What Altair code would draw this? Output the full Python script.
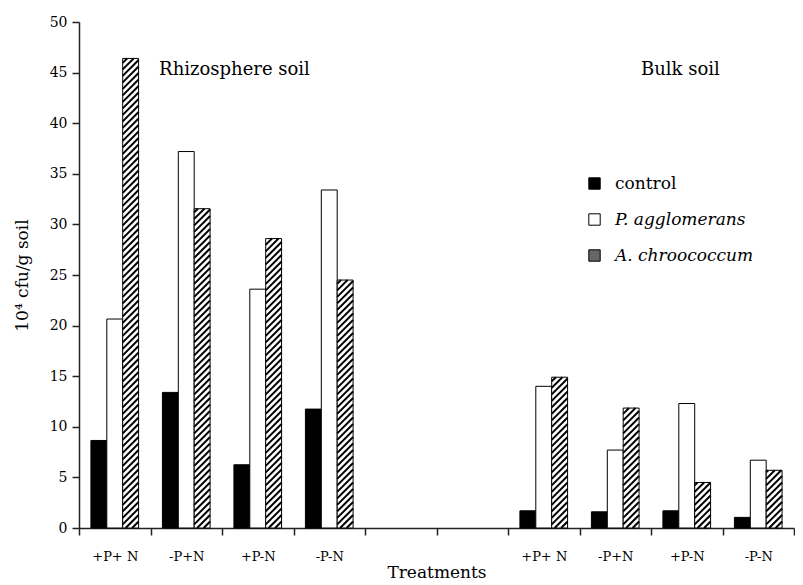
import json
import altair as alt
import pandas as pd

# ---- data ----
slots = list(range(10))
treatments = ["+P+ N", "-P+N", "+P-N", "-P-N", "", "", "+P+ N", "-P+N", "+P-N", "-P-N"]
series = ["control", "P. agglomerans", "A. chroococcum"]
control = [8.65, 13.4, 6.25, 11.75, None, None, 1.7, 1.6, 1.7, 1.05]
p_agglomerans = [20.65, 37.2, 23.6, 33.4, None, None, 14.0, 7.7, 12.3, 6.7]
a_chroococcum = [46.4, 31.55, 28.6, 24.5, None, None, 14.9, 11.85, 4.5, 5.7]
y_ticks = [0, 5, 10, 15, 20, 25, 30, 35, 40, 45, 50]
annotations = ["Rhizosphere soil", "Bulk soil"]
annot_x = [1.12, 7.86]
annot_y = [45.3, 45.3]

W, H = 715, 506
FONT = "DejaVu Serif"

rows = []
for s, vals in zip(series, [control, p_agglomerans, a_chroococcum]):
    for sl, v in zip(slots, vals):
        if v is not None:
            rows.append({"slot": sl, "series": s, "value": v})
df = pd.DataFrame(rows)

# ---- hatch lines for A. chroococcum bars (derived from the values) ----
group_frac = 2 / 3
bar_u = group_frac / 3                      # bar width in category units
bar_px = bar_u * W / 10
px_per_y = H / 50
rise = bar_px / px_per_y                    # 45 degree rise across one bar
period = 6.5 / px_per_y                     # vertical stripe period
hrows = []
for sl, v in zip(slots, a_chroococcum):
    if v is None:
        continue
    xl = sl + (1 - group_frac) / 2 + 2 * bar_u
    k = 0
    while True:
        ya = -rise + k * period
        if ya >= v:
            break
        t0 = max(0.0, -ya / rise)
        t1 = min(1.0, (v - ya) / rise)
        if t1 > t0:
            hrows.append({"x": xl + t0 * bar_u, "x2": xl + t1 * bar_u,
                          "y": ya + t0 * rise, "y2": ya + t1 * rise})
        k += 1
hdf = pd.DataFrame(hrows)

adf = pd.DataFrame({"label": annotations, "x": annot_x, "y": annot_y})

label_expr = json.dumps(treatments) + "[datum.value]"

yscale = alt.Scale(domain=[0, 50], nice=False)

bars = alt.Chart(df).mark_bar(stroke="black", strokeWidth=1).encode(
    x=alt.X("slot:O", scale=alt.Scale(domain=slots, paddingInner=0, paddingOuter=0),
            axis=alt.Axis(title="Treatments", labelExpr=label_expr, labelAngle=0,
                          tickBand="extent", tickSize=7, labelPadding=15,
                          titlePadding=1)),
    xOffset=alt.XOffset("series:N", scale=alt.Scale(domain=series, paddingInner=0, paddingOuter=0.75)),
    y=alt.Y("value:Q", scale=yscale,
            axis=alt.Axis(title="10\u2074 cfu/g soil", values=y_ticks, tickSize=7,
                          labelPadding=5, titlePadding=18)),
    fill=alt.condition(
        "datum.series == 'A. chroococcum'",
        alt.value("white"),
        alt.Fill("series:N", scale=alt.Scale(domain=series, range=["black", "white", "#666666"]),
                 legend=alt.Legend(title=None, orient="none", legendX=507, legendY=153,
                                   symbolType="square", symbolSize=130,
                                   symbolStrokeColor="black", symbolStrokeWidth=1,
                                   labelFont=FONT, labelFontSize=17, labelColor="black",
                                   labelFontStyle={"expr": "datum.label == 'control' ? 'normal' : 'italic'"},
                                   rowPadding=18, labelOffset=12, padding=0)),
    ),
)

xq = alt.Scale(domain=[0, 10], nice=False, zero=False)

hatch = alt.Chart(hdf).mark_rule(color="black", strokeWidth=2).encode(
    x=alt.X("x:Q", scale=xq, axis=None),
    x2="x2:Q",
    y=alt.Y("y:Q", scale=yscale),
    y2="y2:Q",
)

text = alt.Chart(adf).mark_text(align="left", baseline="middle", font=FONT,
                                fontSize=18, color="black").encode(
    x=alt.X("x:Q", scale=xq, axis=None),
    y=alt.Y("y:Q", scale=yscale),
    text="label:N",
)

chart = alt.layer(bars, hatch, text).resolve_scale(x="independent").properties(
    width=W, height=H, padding={"left": 5, "top": 7, "right": 0, "bottom": 0}
).configure_view(stroke=None).configure_axis(
    labelFont=FONT, titleFont=FONT, labelFontSize=14, titleFontSize=17,
    titleFontWeight="normal", labelColor="black", titleColor="black",
    domainColor="#222222", domainWidth=1.5, tickColor="#222222", tickWidth=1.5,
    grid=False,
).configure_axisX(labelFontSize=13, titleFontSize=17)

chart.save("out.html", embed_options={"renderer": "svg", "actions": False})
